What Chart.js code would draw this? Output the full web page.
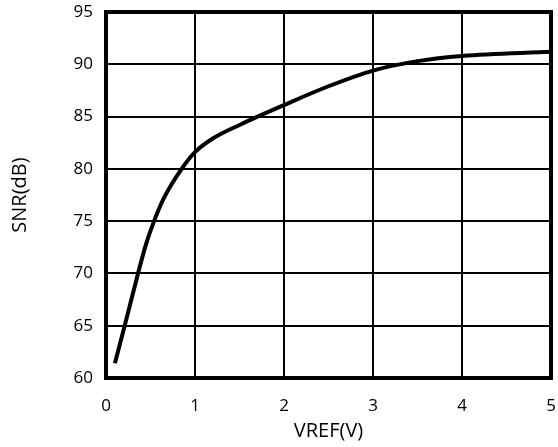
<!DOCTYPE html>
<html>
<head>
<meta charset="utf-8">
<script src="https://cdn.jsdelivr.net/npm/chart.js@4/dist/chart.umd.min.js"></script>
<style>
  html, body { margin: 0; padding: 0; background: #fff; }
  #wrap { width: 558px; height: 447px; }
</style>
</head>
<body>
<div id="wrap"><canvas id="c"></canvas></div>
<script>
// values
const vref = [0.1, 0.21, 0.36, 0.45, 0.54, 0.65, 0.85, 1.0, 1.2, 1.5, 2.0, 2.5, 3.0, 3.5, 4.0, 5.0];
const snr  = [61.4, 65, 70, 72.8, 75, 77.2, 80, 81.6, 82.9, 84.2, 86.1, 87.9, 89.4, 90.3, 90.8, 91.2];
const xTicks = [0, 1, 2, 3, 4, 5];
const yTicks = [60, 65, 70, 75, 80, 85, 90, 95];

const frame = {
    id: 'frame',
    afterDraw(chart) {
        const a = chart.chartArea;
        const ctx = chart.ctx;
        ctx.save();
        ctx.strokeStyle = '#000';
        ctx.lineWidth = 4;
        ctx.strokeRect(a.left, a.top, a.right - a.left, a.bottom - a.top);
        ctx.restore();
    }
};

new Chart(document.getElementById('c'), {
    type: 'scatter',
    data: {
        datasets: [{
            data: vref.map((v, i) => ({x: v, y: snr[i]})),
            showLine: true,
            borderColor: '#000',
            borderWidth: 4,
            pointRadius: 0,
            cubicInterpolationMode: 'monotone',
            fill: false
        }]
    },
    options: {
        responsive: true,
        maintainAspectRatio: false,
        animation: false,
        layout: { padding: { top: 12, right: 7, left: 0, bottom: 0 } },
        plugins: { legend: { display: false }, tooltip: { enabled: false } },
        scales: {
            x: {
                type: 'linear',
                min: 0, max: 5,
                afterFit: s => { s.height = 69; s.paddingLeft = 0; s.paddingRight = 0; },
                afterBuildTicks: s => { s.ticks = xTicks.map(v => ({value: v})); },
                grid: { color: '#000', lineWidth: 2, drawTicks: false },
                border: { display: false },
                ticks: { color: '#000', padding: 18, font: { family: 'Open Sans', size: 17 } },
                title: { display: true, text: 'VREF(V)', color: '#000', padding: { top: 0, bottom: 4 },
                         font: { family: 'Open Sans', size: 20 } }
            },
            y: {
                min: 60, max: 95,
                afterFit: s => { s.width = 106; s.paddingTop = 0; s.paddingBottom = 0; },
                afterBuildTicks: s => { s.ticks = yTicks.map(v => ({value: v})); },
                grid: { color: '#000', lineWidth: 2, drawTicks: false },
                border: { display: false },
                ticks: { color: '#000', padding: 13, font: { family: 'Open Sans', size: 17 } },
                title: { display: true, text: 'SNR(dB)', color: '#000', padding: { top: 8, bottom: 0 },
                         font: { family: 'Open Sans', size: 20 } }
            }
        }
    },
    plugins: [frame]
});
</script>
</body>
</html>
